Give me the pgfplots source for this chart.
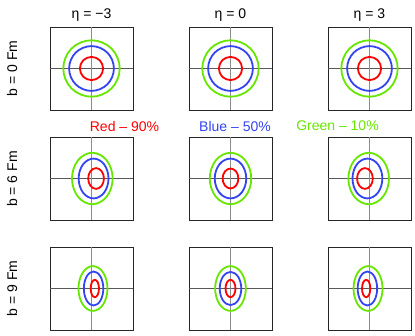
\documentclass[border=0pt]{standalone}
\usepackage{pgfplots}
\pgfplotsset{compat=1.18}
\usepackage{pgfplotstable}
\usepackage{fontspec}
\setmainfont{Liberation Sans}

\definecolor{cred}{RGB}{255,0,0}
\definecolor{cblue}{RGB}{51,68,240}
\definecolor{cgreen}{RGB}{102,230,0}

% contour points, 8 per ring: red (90%), blue (50%), green (10%)
% b = 0 Fm (same for every eta)
\pgfplotstableread{
xr yr xb yb xg yg
0.28 0 0.54 0 0.68 0
0.198 0.198 0.382 0.382 0.481 0.481
0 0.28 0 0.54 0 0.68
-0.198 0.198 -0.382 0.382 -0.481 0.481
-0.28 0 -0.54 0 -0.68 0
-0.198 -0.198 -0.382 -0.382 -0.481 -0.481
0 -0.28 0 -0.54 0 -0.68
0.198 -0.198 0.382 -0.382 0.481 -0.481
}\tA
% b = 6 Fm
\pgfplotstableread{
xr yr xb yb xg yg
0.30 0 0.41 0 0.51 0
0.244 0.177 0.305 0.339 0.366 0.438
0.11 0.25 0.05 0.48 0.02 0.62
-0.024 0.177 -0.205 0.339 -0.326 0.438
-0.08 0 -0.31 0 -0.47 0
-0.024 -0.177 -0.205 -0.339 -0.326 -0.438
0.11 -0.25 0.05 -0.48 0.02 -0.62
0.244 -0.177 0.305 -0.339 0.366 -0.438
}\tBa
\pgfplotstableread{
xr yr xb yb xg yg
0.19 0 0.38 0 0.50 0
0.134 0.170 0.269 0.339 0.354 0.438
0 0.24 0 0.48 0 0.62
-0.134 0.170 -0.269 0.339 -0.354 0.438
-0.19 0 -0.38 0 -0.50 0
-0.134 -0.170 -0.269 -0.339 -0.354 -0.438
0 -0.24 0 -0.48 0 -0.62
0.134 -0.170 0.269 -0.339 0.354 -0.438
}\tBb
\pgfplotstableread{
xr yr xb yb xg yg
0.08 0 0.31 0 0.47 0
0.024 0.177 0.205 0.339 0.326 0.438
-0.11 0.25 -0.05 0.48 -0.02 0.62
-0.244 0.177 -0.305 0.339 -0.366 0.438
-0.30 0 -0.41 0 -0.51 0
-0.244 -0.177 -0.305 -0.339 -0.366 -0.438
-0.11 -0.25 -0.05 -0.48 -0.02 -0.62
0.024 -0.177 0.205 -0.339 0.326 -0.438
}\tBc
% b = 9 Fm
\pgfplotstableread{
xr yr xb yb xg yg
0.18 0 0.285 0 0.385 0
0.151 0.148 0.216 0.290 0.282 0.382
0.08 0.21 0.05 0.41 0.035 0.54
0.009 0.148 -0.116 0.290 -0.212 0.382
-0.02 0 -0.185 0 -0.315 0
0.009 -0.148 -0.116 -0.290 -0.212 -0.382
0.08 -0.21 0.05 -0.41 0.035 -0.54
0.151 -0.148 0.216 -0.290 0.282 -0.382
}\tCa
\pgfplotstableread{
xr yr xb yb xg yg
0.12 0 0.26 0 0.37 0
0.085 0.148 0.184 0.283 0.262 0.382
0 0.21 0 0.40 0 0.54
-0.085 0.148 -0.184 0.283 -0.262 0.382
-0.12 0 -0.26 0 -0.37 0
-0.085 -0.148 -0.184 -0.283 -0.262 -0.382
0 -0.21 0 -0.40 0 -0.54
0.085 -0.148 0.184 -0.283 0.262 -0.382
}\tCb
\pgfplotstableread{
xr yr xb yb xg yg
0.02 0 0.185 0 0.315 0
-0.009 0.148 0.116 0.290 0.212 0.382
-0.08 0.21 -0.05 0.41 -0.035 0.54
-0.151 0.148 -0.216 0.290 -0.282 0.382
-0.18 0 -0.285 0 -0.385 0
-0.151 -0.148 -0.216 -0.290 -0.282 -0.382
-0.08 -0.21 -0.05 -0.41 -0.035 -0.54
-0.009 -0.148 0.116 -0.290 0.212 -0.382
}\tCc

\pgfplotsset{
  panel/.style={
    width=83pt, height=83pt, scale only axis,
    anchor=south west,
    xmin=-1, xmax=1, ymin=-1, ymax=1,
    xtick=\empty, ytick=\empty,
    axis line style={black!85, line width=0.8pt},
  },
  ring/.style={smooth cycle, tension=0.65, line width=1.8pt, no markers},
}

\newcommand{\panel}[3]{%
  \begin{axis}[panel, at={(#1pt,#2pt)}]
    \addplot[black!65, line width=0.8pt] coordinates {(-1,0) (1,0)};
    \addplot[black!45, line width=1.1pt] coordinates {(0,-1) (0,1)};
    \addplot[ring, cgreen] table[x=xg, y=yg] {#3};
    \addplot[ring, cblue] table[x=xb, y=yb] {#3};
    \addplot[ring, cred] table[x=xr, y=yr] {#3};
  \end{axis}}

\begin{document}
\begin{tikzpicture}[font=\fontsize{14}{16}\selectfont]
\useasboundingbox (0,0) rectangle (415pt,335pt);

\panel{50}{225}{\tA}
\panel{189}{225}{\tA}
\panel{328}{225}{\tA}
\panel{50}{115}{\tBa}
\panel{189}{115}{\tBb}
\panel{328}{115}{\tBc}
\panel{50}{5}{\tCa}
\panel{189}{5}{\tCb}
\panel{328}{5}{\tCc}

\node at (91.5pt,320pt) {η = −3};
\node at (230.5pt,320pt) {η = 0};
\node at (369.5pt,320pt) {η = 3};

\node[rotate=90] at (12pt,266.5pt) {b = 0 Fm};
\node[rotate=90] at (12pt,156pt) {b = 6 Fm};
\node[rotate=90] at (12pt,46.5pt) {b = 9 Fm};

\node[text=cred] at (124.5pt,209pt) {Red – 90\%};
\node[text=cblue] at (235pt,209pt) {Blue – 50\%};
\node[text=cgreen] at (337.5pt,209pt) {Green – 10\%};
\end{tikzpicture}
\end{document}
